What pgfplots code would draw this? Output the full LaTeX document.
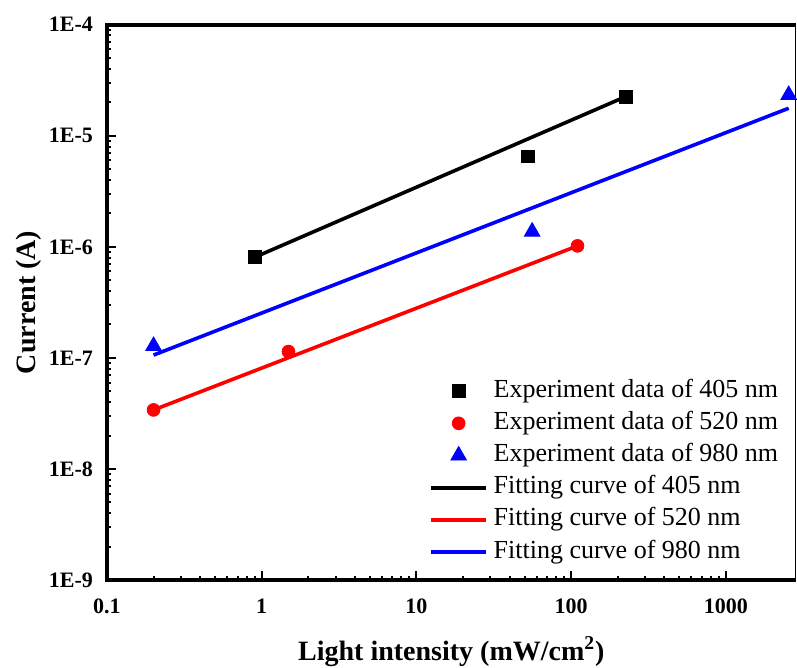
\documentclass[border=0pt]{standalone}
\usepackage{fontspec}
\setmainfont{Liberation Serif}
\usepackage{pgfplots}
\pgfplotsset{compat=1.18}

\begin{document}
\begin{tikzpicture}
\begin{axis}[
  at={(0,0)}, anchor=south west,
  scale only axis,
  width=344.35pt, height=277.65pt,
  xmode=log, ymode=log,
  xmin=0.1, xmax=2830,
  ymin=1e-9, ymax=1e-4,
  axis line style={draw=none},
  clip=false,
  tick align=inside,
  xtick pos=bottom, ytick pos=left,
  xtick={0.1,1,10,100,1000},
  xticklabels={0.1,1,10,100,1000},
  ytick={1e-9,1e-8,1e-7,1e-6,1e-5,1e-4},
  yticklabels={1E-9,1E-8,1E-7,1E-6,1E-5,1E-4},
  major tick length=4.3pt, minor tick length=2pt,
  tick style={black, line width=1pt},
  tick label style={font=\fontsize{11}{13}\selectfont\bfseries, inner sep=0pt},
  xticklabel style={anchor=north, yshift=-9.4pt},
  yticklabel style={anchor=east, xshift=-6.8pt},
  xlabel={Light intensity (mW/cm\textsuperscript{2})},
  ylabel={Current (A)},
  label style={font=\fontsize{14}{16}\selectfont\bfseries},
  xlabel style={at={(axis description cs:0.5,-0.1441)}, anchor=base},
  ylabel style={at={(axis description cs:-0.1031,0.5)}, anchor=base},
  legend style={at={(axis description cs:0.4675,0.3625)}, anchor=north west,
    draw=none, fill=none, inner sep=0pt, row sep=4.1pt, column sep=2.85pt,
    font=\fontsize{13}{15}\selectfont,
    nodes={inner sep=0pt, text height=9pt, text depth=3pt}},
  legend cell align=left,
  legend image code/.code={\draw[mark repeat=2,mark phase=2,#1] plot coordinates {(0pt,0pt) (13.75pt,0pt) (27.5pt,0pt)};},
]
% measured points
\addplot[only marks, mark=square*, mark size=3.2pt, black]
  coordinates {(0.9,8.05e-7) (52.4,6.53e-6) (225,2.25e-5)};
\addlegendentry{Experiment data of 405 nm}
\addplot[only marks, mark=*, mark size=3.2pt, red]
  coordinates {(0.2,3.4e-8) (1.49,1.14e-7) (110,1.02e-6)};
\addlegendentry{Experiment data of 520 nm}
\addplot[only marks, mark=triangle*, mark size=4.5pt, blue]
  coordinates {(0.2,1.28e-7) (56,1.37e-6) (2550,2.33e-5)};
\addlegendentry{Experiment data of 980 nm}

% fitted lines
\addplot[black, line width=1.8pt, no marks]
  coordinates {(0.9,8.05e-7) (225,2.25e-5)};
\addlegendentry{Fitting curve of 405 nm}
\addplot[red, line width=1.8pt, no marks]
  coordinates {(0.2,3.4e-8) (110,1.02e-6)};
\addlegendentry{Fitting curve of 520 nm}
\addplot[blue, line width=1.8pt, no marks]
  coordinates {(0.2,1.06e-7) (2550,1.77e-5)};
\addlegendentry{Fitting curve of 980 nm}

% frame: thick left/bottom/top, thin right
\draw[line width=2pt, line join=miter] (rel axis cs:1,0) -- (rel axis cs:0,0) -- (rel axis cs:0,1) -- (rel axis cs:1,1);
\draw[line width=0.6pt] (rel axis cs:1,0) -- (rel axis cs:1,1);
\end{axis}
\pgfresetboundingbox
\useasboundingbox (-53.5pt,-44pt) rectangle (345pt,290pt);
\end{tikzpicture}
\end{document}
